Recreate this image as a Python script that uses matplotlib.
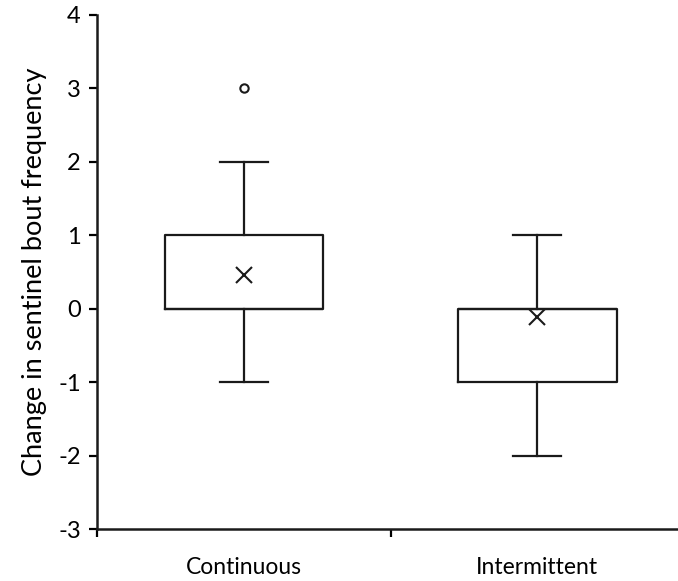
import matplotlib.pyplot as plt

plt.rcParams['font.family'] = ['Lato', 'DejaVu Sans']
plt.rcParams['axes.unicode_minus'] = False

# Summary statistics per treatment
groups = ['Continuous', 'Intermittent']
whisker_low = [-1, -2]
q1 = [0, -1]
median = [0, 0]
q3 = [1, 0]
whisker_high = [2, 1]
means = [0.46, -0.12]
outliers = [[3], []]

stats = []
for i, g in enumerate(groups):
    stats.append({'label': g, 'whislo': whisker_low[i], 'q1': q1[i], 'med': median[i],
                  'q3': q3[i], 'whishi': whisker_high[i], 'mean': means[i],
                  'fliers': outliers[i]})

fig = plt.figure(figsize=(6.78, 5.81), dpi=100)
ax = fig.add_axes([0.1438, 0.0895, 0.865, 0.8848])

line = dict(color='#1a1a1a', linewidth=1.6)
ax.bxp(stats, positions=[1, 2], widths=0.54, showmeans=True, showfliers=True,
       boxprops=line, whiskerprops=line, capprops=line,
       medianprops=dict(color='#1a1a1a', linewidth=1.6),
       meanprops=dict(marker='x', markeredgecolor='#1a1a1a', markersize=11, markeredgewidth=1.5),
       flierprops=dict(marker='o', markerfacecolor='white', markeredgecolor='#1a1a1a',
                       markersize=6, markeredgewidth=1.5),
       capwidths=0.163)

ax.set_xlim(0.5, 2.5)
ax.set_ylim(-3, 4)
ax.set_yticks(range(-3, 5))
ax.set_xticks([0.5, 1.5, 2.5])
ax.set_xticklabels([])
ax.set_xticks([1, 2], minor=True)
ax.set_xticklabels(groups, minor=True)
ax.tick_params(axis='x', which='minor', length=0, pad=20, labelsize=16.5)
ax.tick_params(axis='x', which='major', direction='out', length=6, width=1.6)
ax.tick_params(axis='y', direction='out', length=6, width=1.6, labelsize=17, pad=6)

for side in ['top', 'right']:
    ax.spines[side].set_visible(False)
for side in ['left', 'bottom']:
    ax.spines[side].set_linewidth(1.8)
    ax.spines[side].set_color('#1a1a1a')

ax.set_ylabel('Change in sentinel bout frequency', fontsize=19.5, labelpad=8)

fig.savefig('out.png', dpi=100)
